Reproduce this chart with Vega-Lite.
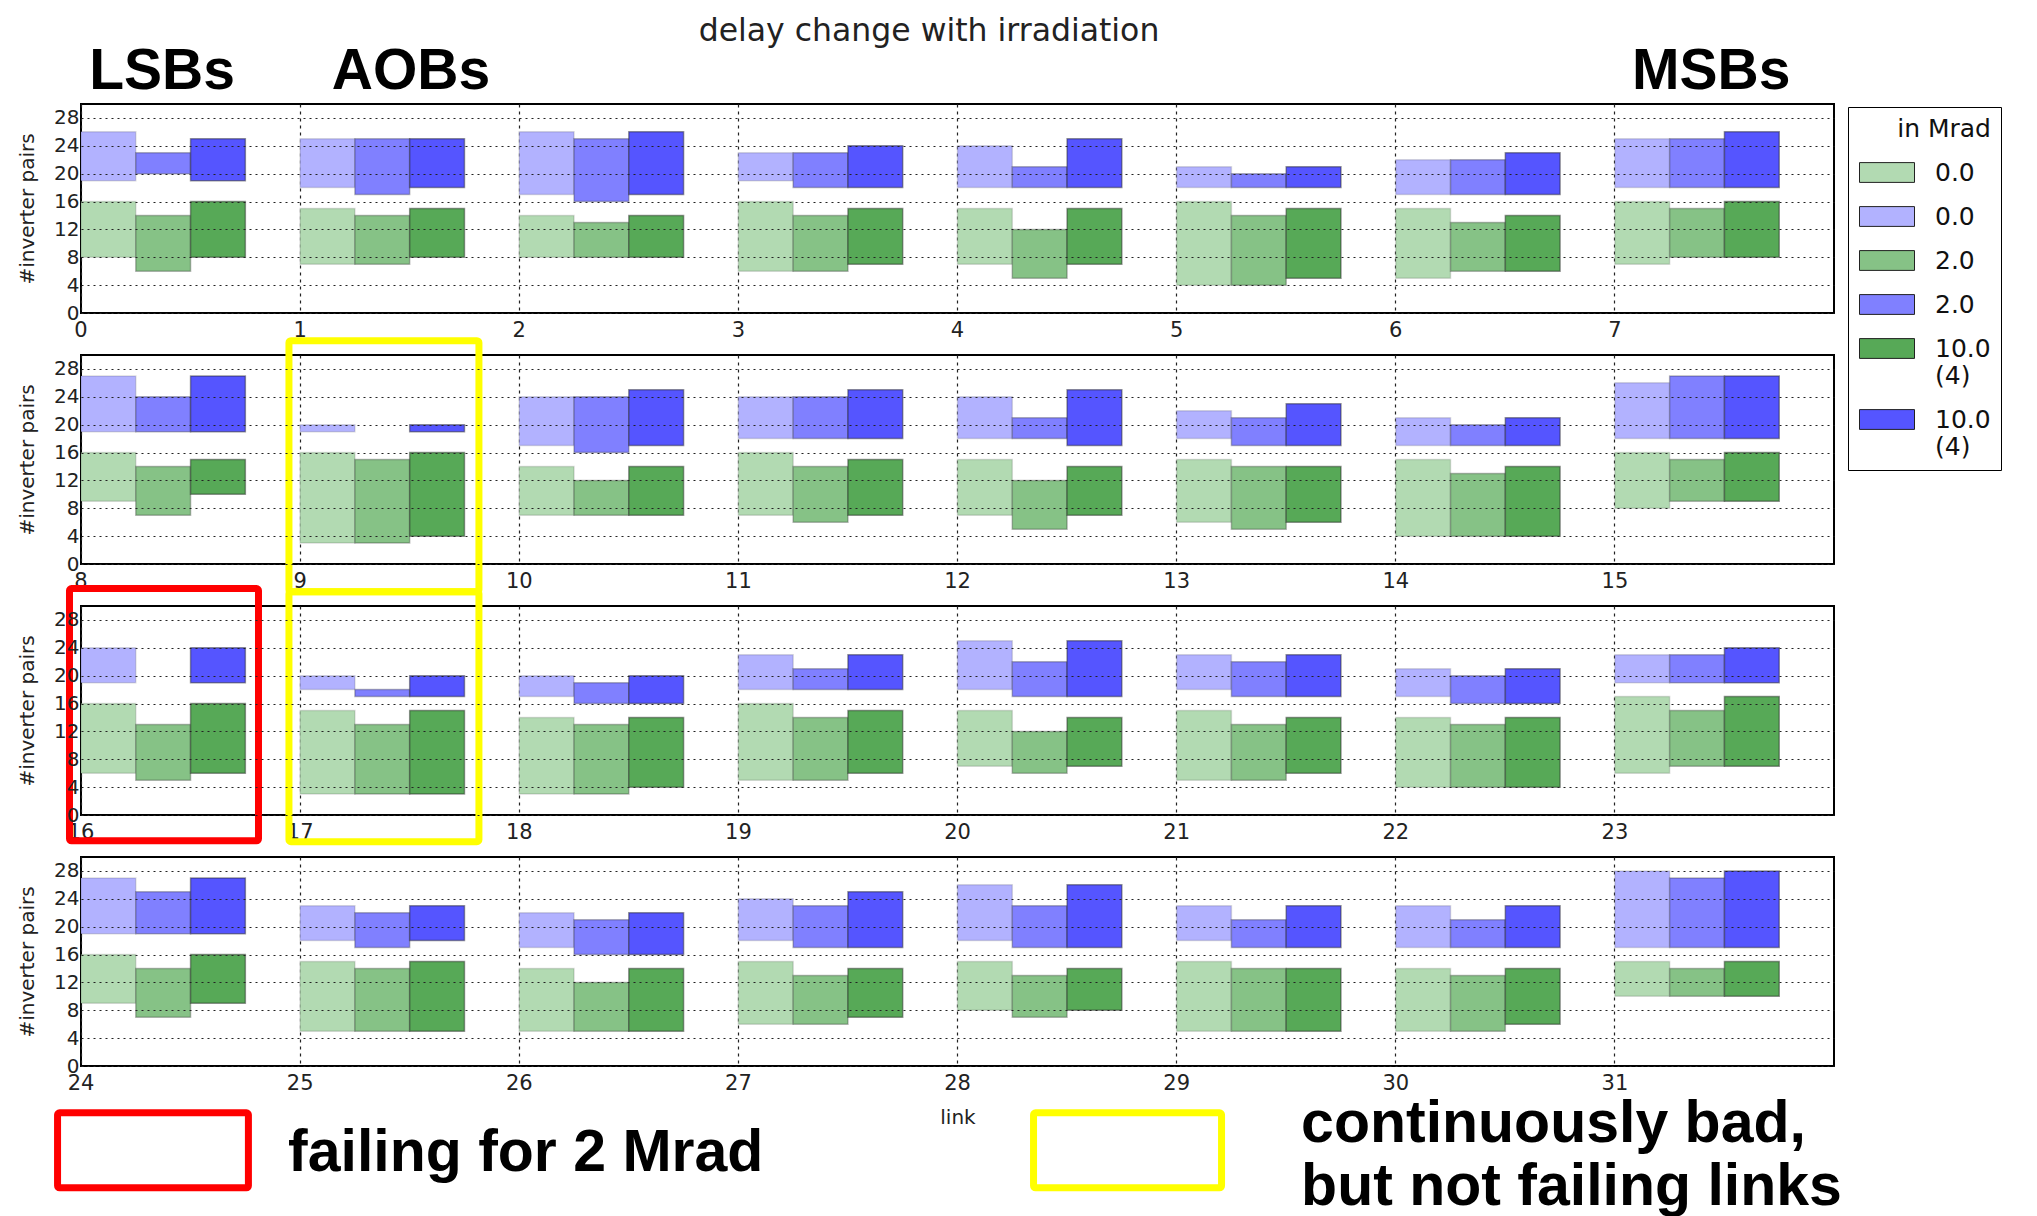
{
"$schema":"https://vega.github.io/schema/vega-lite/v6.json",
"background":"white",
"padding":{"left":16,"top":14,"right":0,"bottom":0},
"bounds":"flush",
"spacing":42,
"config":{"view":{"stroke":"#000","strokeWidth":2}},
"datasets":{
"bars":[
{"link":0,"dose":"0","series":"g0","lo":8,"hi":16},{"link":0,"dose":"2","series":"g2","lo":6,"hi":14},{"link":0,"dose":"10","series":"g10","lo":8,"hi":16},{"link":0,"dose":"0","series":"b0","lo":19,"hi":26},{"link":0,"dose":"2","series":"b2","lo":20,"hi":23},{"link":0,"dose":"10","series":"b10","lo":19,"hi":25},
{"link":1,"dose":"0","series":"g0","lo":7,"hi":15},{"link":1,"dose":"2","series":"g2","lo":7,"hi":14},{"link":1,"dose":"10","series":"g10","lo":8,"hi":15},{"link":1,"dose":"0","series":"b0","lo":18,"hi":25},{"link":1,"dose":"2","series":"b2","lo":17,"hi":25},{"link":1,"dose":"10","series":"b10","lo":18,"hi":25},
{"link":2,"dose":"0","series":"g0","lo":8,"hi":14},{"link":2,"dose":"2","series":"g2","lo":8,"hi":13},{"link":2,"dose":"10","series":"g10","lo":8,"hi":14},{"link":2,"dose":"0","series":"b0","lo":17,"hi":26},{"link":2,"dose":"2","series":"b2","lo":16,"hi":25},{"link":2,"dose":"10","series":"b10","lo":17,"hi":26},
{"link":3,"dose":"0","series":"g0","lo":6,"hi":16},{"link":3,"dose":"2","series":"g2","lo":6,"hi":14},{"link":3,"dose":"10","series":"g10","lo":7,"hi":15},{"link":3,"dose":"0","series":"b0","lo":19,"hi":23},{"link":3,"dose":"2","series":"b2","lo":18,"hi":23},{"link":3,"dose":"10","series":"b10","lo":18,"hi":24},
{"link":4,"dose":"0","series":"g0","lo":7,"hi":15},{"link":4,"dose":"2","series":"g2","lo":5,"hi":12},{"link":4,"dose":"10","series":"g10","lo":7,"hi":15},{"link":4,"dose":"0","series":"b0","lo":18,"hi":24},{"link":4,"dose":"2","series":"b2","lo":18,"hi":21},{"link":4,"dose":"10","series":"b10","lo":18,"hi":25},
{"link":5,"dose":"0","series":"g0","lo":4,"hi":16},{"link":5,"dose":"2","series":"g2","lo":4,"hi":14},{"link":5,"dose":"10","series":"g10","lo":5,"hi":15},{"link":5,"dose":"0","series":"b0","lo":18,"hi":21},{"link":5,"dose":"2","series":"b2","lo":18,"hi":20},{"link":5,"dose":"10","series":"b10","lo":18,"hi":21},
{"link":6,"dose":"0","series":"g0","lo":5,"hi":15},{"link":6,"dose":"2","series":"g2","lo":6,"hi":13},{"link":6,"dose":"10","series":"g10","lo":6,"hi":14},{"link":6,"dose":"0","series":"b0","lo":17,"hi":22},{"link":6,"dose":"2","series":"b2","lo":17,"hi":22},{"link":6,"dose":"10","series":"b10","lo":17,"hi":23},
{"link":7,"dose":"0","series":"g0","lo":7,"hi":16},{"link":7,"dose":"2","series":"g2","lo":8,"hi":15},{"link":7,"dose":"10","series":"g10","lo":8,"hi":16},{"link":7,"dose":"0","series":"b0","lo":18,"hi":25},{"link":7,"dose":"2","series":"b2","lo":18,"hi":25},{"link":7,"dose":"10","series":"b10","lo":18,"hi":26},
{"link":8,"dose":"0","series":"g0","lo":9,"hi":16},{"link":8,"dose":"2","series":"g2","lo":7,"hi":14},{"link":8,"dose":"10","series":"g10","lo":10,"hi":15},{"link":8,"dose":"0","series":"b0","lo":19,"hi":27},{"link":8,"dose":"2","series":"b2","lo":19,"hi":24},{"link":8,"dose":"10","series":"b10","lo":19,"hi":27},
{"link":9,"dose":"0","series":"g0","lo":3,"hi":16},{"link":9,"dose":"2","series":"g2","lo":3,"hi":15},{"link":9,"dose":"10","series":"g10","lo":4,"hi":16},{"link":9,"dose":"0","series":"b0","lo":19,"hi":20},{"link":9,"dose":"10","series":"b10","lo":19,"hi":20},
{"link":10,"dose":"0","series":"g0","lo":7,"hi":14},{"link":10,"dose":"2","series":"g2","lo":7,"hi":12},{"link":10,"dose":"10","series":"g10","lo":7,"hi":14},{"link":10,"dose":"0","series":"b0","lo":17,"hi":24},{"link":10,"dose":"2","series":"b2","lo":16,"hi":24},{"link":10,"dose":"10","series":"b10","lo":17,"hi":25},
{"link":11,"dose":"0","series":"g0","lo":7,"hi":16},{"link":11,"dose":"2","series":"g2","lo":6,"hi":14},{"link":11,"dose":"10","series":"g10","lo":7,"hi":15},{"link":11,"dose":"0","series":"b0","lo":18,"hi":24},{"link":11,"dose":"2","series":"b2","lo":18,"hi":24},{"link":11,"dose":"10","series":"b10","lo":18,"hi":25},
{"link":12,"dose":"0","series":"g0","lo":7,"hi":15},{"link":12,"dose":"2","series":"g2","lo":5,"hi":12},{"link":12,"dose":"10","series":"g10","lo":7,"hi":14},{"link":12,"dose":"0","series":"b0","lo":18,"hi":24},{"link":12,"dose":"2","series":"b2","lo":18,"hi":21},{"link":12,"dose":"10","series":"b10","lo":17,"hi":25},
{"link":13,"dose":"0","series":"g0","lo":6,"hi":15},{"link":13,"dose":"2","series":"g2","lo":5,"hi":14},{"link":13,"dose":"10","series":"g10","lo":6,"hi":14},{"link":13,"dose":"0","series":"b0","lo":18,"hi":22},{"link":13,"dose":"2","series":"b2","lo":17,"hi":21},{"link":13,"dose":"10","series":"b10","lo":17,"hi":23},
{"link":14,"dose":"0","series":"g0","lo":4,"hi":15},{"link":14,"dose":"2","series":"g2","lo":4,"hi":13},{"link":14,"dose":"10","series":"g10","lo":4,"hi":14},{"link":14,"dose":"0","series":"b0","lo":17,"hi":21},{"link":14,"dose":"2","series":"b2","lo":17,"hi":20},{"link":14,"dose":"10","series":"b10","lo":17,"hi":21},
{"link":15,"dose":"0","series":"g0","lo":8,"hi":16},{"link":15,"dose":"2","series":"g2","lo":9,"hi":15},{"link":15,"dose":"10","series":"g10","lo":9,"hi":16},{"link":15,"dose":"0","series":"b0","lo":18,"hi":26},{"link":15,"dose":"2","series":"b2","lo":18,"hi":27},{"link":15,"dose":"10","series":"b10","lo":18,"hi":27},
{"link":16,"dose":"0","series":"g0","lo":6,"hi":16},{"link":16,"dose":"2","series":"g2","lo":5,"hi":13},{"link":16,"dose":"10","series":"g10","lo":6,"hi":16},{"link":16,"dose":"0","series":"b0","lo":19,"hi":24},{"link":16,"dose":"10","series":"b10","lo":19,"hi":24},
{"link":17,"dose":"0","series":"g0","lo":3,"hi":15},{"link":17,"dose":"2","series":"g2","lo":3,"hi":13},{"link":17,"dose":"10","series":"g10","lo":3,"hi":15},{"link":17,"dose":"0","series":"b0","lo":18,"hi":20},{"link":17,"dose":"2","series":"b2","lo":17,"hi":18},{"link":17,"dose":"10","series":"b10","lo":17,"hi":20},
{"link":18,"dose":"0","series":"g0","lo":3,"hi":14},{"link":18,"dose":"2","series":"g2","lo":3,"hi":13},{"link":18,"dose":"10","series":"g10","lo":4,"hi":14},{"link":18,"dose":"0","series":"b0","lo":17,"hi":20},{"link":18,"dose":"2","series":"b2","lo":16,"hi":19},{"link":18,"dose":"10","series":"b10","lo":16,"hi":20},
{"link":19,"dose":"0","series":"g0","lo":5,"hi":16},{"link":19,"dose":"2","series":"g2","lo":5,"hi":14},{"link":19,"dose":"10","series":"g10","lo":6,"hi":15},{"link":19,"dose":"0","series":"b0","lo":18,"hi":23},{"link":19,"dose":"2","series":"b2","lo":18,"hi":21},{"link":19,"dose":"10","series":"b10","lo":18,"hi":23},
{"link":20,"dose":"0","series":"g0","lo":7,"hi":15},{"link":20,"dose":"2","series":"g2","lo":6,"hi":12},{"link":20,"dose":"10","series":"g10","lo":7,"hi":14},{"link":20,"dose":"0","series":"b0","lo":18,"hi":25},{"link":20,"dose":"2","series":"b2","lo":17,"hi":22},{"link":20,"dose":"10","series":"b10","lo":17,"hi":25},
{"link":21,"dose":"0","series":"g0","lo":5,"hi":15},{"link":21,"dose":"2","series":"g2","lo":5,"hi":13},{"link":21,"dose":"10","series":"g10","lo":6,"hi":14},{"link":21,"dose":"0","series":"b0","lo":18,"hi":23},{"link":21,"dose":"2","series":"b2","lo":17,"hi":22},{"link":21,"dose":"10","series":"b10","lo":17,"hi":23},
{"link":22,"dose":"0","series":"g0","lo":4,"hi":14},{"link":22,"dose":"2","series":"g2","lo":4,"hi":13},{"link":22,"dose":"10","series":"g10","lo":4,"hi":14},{"link":22,"dose":"0","series":"b0","lo":17,"hi":21},{"link":22,"dose":"2","series":"b2","lo":16,"hi":20},{"link":22,"dose":"10","series":"b10","lo":16,"hi":21},
{"link":23,"dose":"0","series":"g0","lo":6,"hi":17},{"link":23,"dose":"2","series":"g2","lo":7,"hi":15},{"link":23,"dose":"10","series":"g10","lo":7,"hi":17},{"link":23,"dose":"0","series":"b0","lo":19,"hi":23},{"link":23,"dose":"2","series":"b2","lo":19,"hi":23},{"link":23,"dose":"10","series":"b10","lo":19,"hi":24},
{"link":24,"dose":"0","series":"g0","lo":9,"hi":16},{"link":24,"dose":"2","series":"g2","lo":7,"hi":14},{"link":24,"dose":"10","series":"g10","lo":9,"hi":16},{"link":24,"dose":"0","series":"b0","lo":19,"hi":27},{"link":24,"dose":"2","series":"b2","lo":19,"hi":25},{"link":24,"dose":"10","series":"b10","lo":19,"hi":27},
{"link":25,"dose":"0","series":"g0","lo":5,"hi":15},{"link":25,"dose":"2","series":"g2","lo":5,"hi":14},{"link":25,"dose":"10","series":"g10","lo":5,"hi":15},{"link":25,"dose":"0","series":"b0","lo":18,"hi":23},{"link":25,"dose":"2","series":"b2","lo":17,"hi":22},{"link":25,"dose":"10","series":"b10","lo":18,"hi":23},
{"link":26,"dose":"0","series":"g0","lo":5,"hi":14},{"link":26,"dose":"2","series":"g2","lo":5,"hi":12},{"link":26,"dose":"10","series":"g10","lo":5,"hi":14},{"link":26,"dose":"0","series":"b0","lo":17,"hi":22},{"link":26,"dose":"2","series":"b2","lo":16,"hi":21},{"link":26,"dose":"10","series":"b10","lo":16,"hi":22},
{"link":27,"dose":"0","series":"g0","lo":6,"hi":15},{"link":27,"dose":"2","series":"g2","lo":6,"hi":13},{"link":27,"dose":"10","series":"g10","lo":7,"hi":14},{"link":27,"dose":"0","series":"b0","lo":18,"hi":24},{"link":27,"dose":"2","series":"b2","lo":17,"hi":23},{"link":27,"dose":"10","series":"b10","lo":17,"hi":25},
{"link":28,"dose":"0","series":"g0","lo":8,"hi":15},{"link":28,"dose":"2","series":"g2","lo":7,"hi":13},{"link":28,"dose":"10","series":"g10","lo":8,"hi":14},{"link":28,"dose":"0","series":"b0","lo":18,"hi":26},{"link":28,"dose":"2","series":"b2","lo":17,"hi":23},{"link":28,"dose":"10","series":"b10","lo":17,"hi":26},
{"link":29,"dose":"0","series":"g0","lo":5,"hi":15},{"link":29,"dose":"2","series":"g2","lo":5,"hi":14},{"link":29,"dose":"10","series":"g10","lo":5,"hi":14},{"link":29,"dose":"0","series":"b0","lo":18,"hi":23},{"link":29,"dose":"2","series":"b2","lo":17,"hi":21},{"link":29,"dose":"10","series":"b10","lo":17,"hi":23},
{"link":30,"dose":"0","series":"g0","lo":5,"hi":14},{"link":30,"dose":"2","series":"g2","lo":5,"hi":13},{"link":30,"dose":"10","series":"g10","lo":6,"hi":14},{"link":30,"dose":"0","series":"b0","lo":17,"hi":23},{"link":30,"dose":"2","series":"b2","lo":17,"hi":21},{"link":30,"dose":"10","series":"b10","lo":17,"hi":23},
{"link":31,"dose":"0","series":"g0","lo":10,"hi":15},{"link":31,"dose":"2","series":"g2","lo":10,"hi":14},{"link":31,"dose":"10","series":"g10","lo":10,"hi":15},{"link":31,"dose":"0","series":"b0","lo":17,"hi":28},{"link":31,"dose":"2","series":"b2","lo":17,"hi":27},{"link":31,"dose":"10","series":"b10","lo":17,"hi":28}
],
"notes":[
{"panel":1,"kind":"title","text":"delay change with irradiation","x":3.87,"y":39.1},
{"panel":1,"kind":"group","text":"LSBs","x":0.37,"y":32.2},
{"panel":1,"kind":"group","text":"AOBs","x":1.506,"y":32.2},
{"panel":1,"kind":"group","text":"MSBs","x":7.44,"y":32.2},
{"panel":4,"kind":"note","text":"failing for 2 Mrad","x":0.945,"y":-15.1},
{"panel":4,"kind":"note","text":"continuously bad,","x":5.568,"y":-10.95},
{"panel":4,"kind":"note","text":"but not failing links","x":5.568,"y":-20.0}
],
"boxes":[
{"panel":2,"box":"bad","x":0.949,"x2":1.816,"y":-3.98,"y2":32.05},
{"panel":3,"box":"failing","x":-0.0525,"x2":0.81,"y":-3.7,"y2":32.5},
{"panel":3,"box":"bad","x":0.949,"x2":1.816,"y":-3.83,"y2":32.05},
{"panel":4,"box":"failing","x":-0.107,"x2":0.764,"y":-17.48,"y2":-6.72},
{"panel":4,"box":"bad","x":4.347,"x2":5.205,"y":-17.48,"y2":-6.72}
]
},
"vconcat":[
{"width":1753,"height":209,"resolve":{"scale":{"x":"independent","y":"independent"}},
"layer":[
{"data":{"name":"bars"},"transform":[{"filter":{"field":"link","range":[0,7]}}],
"mark":{"type":"bar","stroke":"#222","strokeWidth":1.5},
"encoding":{
"x":{"field":"link","type":"ordinal","scale":{"paddingInner":0,"paddingOuter":0},"axis":{"title":null,"labelAngle":0,"labelFontSize":21,"labelFont":"DejaVu Sans","labelColor":"#222","labelPadding":6,"labelOffset":-109.56,"bandPosition":0,"grid":true,"gridDash":[3,4],"gridColor":"#222","gridWidth":1.2,"domain":false,"ticks":false,"tickSize":0}},
"xOffset":{"field":"dose","type":"nominal","scale":{"domain":["0","2","10","pad"],"paddingInner":0,"paddingOuter":0}},
"y":{"field":"lo","type":"quantitative","scale":{"domain":[0,30],"nice":false,"zero":false},"axis":{"title":"#inverter pairs","titleFont":"DejaVu Sans","titleFontSize":20,"titleFontWeight":"normal","titleColor":"#222","titlePadding":16,"values":[0,4,8,12,16,20,24,28],"labelFontSize":20,"labelFont":"DejaVu Sans","labelColor":"#222","labelPadding":2,"grid":true,"gridDash":[2,4],"gridColor":"#222","gridWidth":1.2,"domain":false,"ticks":false,"tickSize":0,"zindex":1}},
"y2":{"field":"hi"},
"color":{"field":"series","type":"nominal","scale":{"domain":["g0","b0","g2","b2","g10","b10"],"range":["#b2dab2","#b2b2ff","#86c286","#8080ff","#57a957","#5555ff"]},
"legend":{"title":"in Mrad","orient":"none","legendX":1767,"legendY":3,"strokeColor":"#000","fillColor":"#fff","padding":10,"titleFont":"DejaVu Sans","titleFontSize":25,"titleFontWeight":"normal","titleColor":"#111","titleAnchor":"end","titlePadding":18,"labelFont":"DejaVu Sans","labelFontSize":25,"labelColor":"#111","labelOffset":52,"symbolType":"M-1,-0.9L4,-0.9L4,0.9L-1,0.9Z","symbolSize":484,"symbolStrokeColor":"#777","symbolStrokeWidth":1,"symbolOpacity":1,"rowPadding":18,"labelExpr":"(datum.label=='g10'||datum.label=='b10') ? ['10.0\u00a0\u00a0\u00a0\u00a0\u00a0','(4)'] : ((datum.label=='g2'||datum.label=='b2') ? '2.0' : '0.0')"}},
"strokeOpacity":{"field":"dose","type":"nominal","scale":{"domain":["0","2","10"],"range":[0.15,0.45,0.75]},"legend":null}
}},
{"data":{"name":"notes"},"transform":[{"filter":"datum.panel==1 && datum.kind=='group'"}],
"mark":{"type":"text","font":"Liberation Sans","fontWeight":"bold","fontSize":57,"align":"center","baseline":"alphabetic","color":"#000"},
"encoding":{"x":{"field":"x","type":"quantitative","scale":{"domain":[0,8],"nice":false,"zero":false},"axis":null},"y":{"field":"y","type":"quantitative","scale":{"domain":[0,30],"nice":false,"zero":false},"axis":null},"text":{"field":"text"}}},
{"data":{"name":"notes"},"transform":[{"filter":"datum.panel==1 && datum.kind=='title'"}],
"mark":{"type":"text","font":"DejaVu Sans","fontSize":31.5,"align":"center","baseline":"alphabetic","color":"#222"},
"encoding":{"x":{"field":"x","type":"quantitative","scale":{"domain":[0,8],"nice":false,"zero":false},"axis":null},"y":{"field":"y","type":"quantitative","scale":{"domain":[0,30],"nice":false,"zero":false},"axis":null},"text":{"field":"text"}}}
]},
{"width":1753,"height":209,"resolve":{"scale":{"x":"independent","y":"independent"}},
"layer":[
{"data":{"name":"bars"},"transform":[{"filter":{"field":"link","range":[8,15]}}],
"mark":{"type":"bar","stroke":"#222","strokeWidth":1.5},
"encoding":{
"x":{"field":"link","type":"ordinal","scale":{"paddingInner":0,"paddingOuter":0},"axis":{"title":null,"labelAngle":0,"labelFontSize":21,"labelFont":"DejaVu Sans","labelColor":"#222","labelPadding":6,"labelOffset":-109.56,"bandPosition":0,"grid":true,"gridDash":[3,4],"gridColor":"#222","gridWidth":1.2,"domain":false,"ticks":false,"tickSize":0}},
"xOffset":{"field":"dose","type":"nominal","scale":{"domain":["0","2","10","pad"],"paddingInner":0,"paddingOuter":0}},
"y":{"field":"lo","type":"quantitative","scale":{"domain":[0,30],"nice":false,"zero":false},"axis":{"title":"#inverter pairs","titleFont":"DejaVu Sans","titleFontSize":20,"titleFontWeight":"normal","titleColor":"#222","titlePadding":16,"values":[0,4,8,12,16,20,24,28],"labelFontSize":20,"labelFont":"DejaVu Sans","labelColor":"#222","labelPadding":2,"grid":true,"gridDash":[2,4],"gridColor":"#222","gridWidth":1.2,"domain":false,"ticks":false,"tickSize":0,"zindex":1}},
"y2":{"field":"hi"},
"color":{"field":"series","type":"nominal"},
"strokeOpacity":{"field":"dose","type":"nominal","legend":null}
}},
{"data":{"name":"boxes"},"transform":[{"filter":"datum.panel==2"}],
"mark":{"type":"rect","fill":"transparent","strokeWidth":7,"cornerRadius":2},
"encoding":{"x":{"field":"x","type":"quantitative","scale":{"domain":[0,8],"nice":false,"zero":false},"axis":null},"x2":{"field":"x2"},"y":{"field":"y","type":"quantitative","scale":{"domain":[0,30],"nice":false,"zero":false},"axis":null},"y2":{"field":"y2"},
"stroke":{"field":"box","type":"nominal","scale":{"domain":["failing","bad"],"range":["#ff0000","#ffff00"]},"legend":null}}}
]},
{"width":1753,"height":209,"resolve":{"scale":{"x":"independent","y":"independent"}},
"layer":[
{"data":{"name":"bars"},"transform":[{"filter":{"field":"link","range":[16,23]}}],
"mark":{"type":"bar","stroke":"#222","strokeWidth":1.5},
"encoding":{
"x":{"field":"link","type":"ordinal","scale":{"paddingInner":0,"paddingOuter":0},"axis":{"title":null,"labelAngle":0,"labelFontSize":21,"labelFont":"DejaVu Sans","labelColor":"#222","labelPadding":6,"labelOffset":-109.56,"bandPosition":0,"grid":true,"gridDash":[3,4],"gridColor":"#222","gridWidth":1.2,"domain":false,"ticks":false,"tickSize":0}},
"xOffset":{"field":"dose","type":"nominal","scale":{"domain":["0","2","10","pad"],"paddingInner":0,"paddingOuter":0}},
"y":{"field":"lo","type":"quantitative","scale":{"domain":[0,30],"nice":false,"zero":false},"axis":{"title":"#inverter pairs","titleFont":"DejaVu Sans","titleFontSize":20,"titleFontWeight":"normal","titleColor":"#222","titlePadding":16,"values":[0,4,8,12,16,20,24,28],"labelFontSize":20,"labelFont":"DejaVu Sans","labelColor":"#222","labelPadding":2,"grid":true,"gridDash":[2,4],"gridColor":"#222","gridWidth":1.2,"domain":false,"ticks":false,"tickSize":0,"zindex":1}},
"y2":{"field":"hi"},
"color":{"field":"series","type":"nominal"},
"strokeOpacity":{"field":"dose","type":"nominal","legend":null}
}},
{"data":{"name":"boxes"},"transform":[{"filter":"datum.panel==3"}],
"mark":{"type":"rect","fill":"transparent","strokeWidth":7,"cornerRadius":2},
"encoding":{"x":{"field":"x","type":"quantitative","scale":{"domain":[0,8],"nice":false,"zero":false},"axis":null},"x2":{"field":"x2"},"y":{"field":"y","type":"quantitative","scale":{"domain":[0,30],"nice":false,"zero":false},"axis":null},"y2":{"field":"y2"},
"stroke":{"field":"box","type":"nominal","legend":null}}}
]},
{"width":1753,"height":209,"resolve":{"scale":{"x":"independent","y":"independent"}},
"layer":[
{"data":{"name":"bars"},"transform":[{"filter":{"field":"link","range":[24,31]}}],
"mark":{"type":"bar","stroke":"#222","strokeWidth":1.5},
"encoding":{
"x":{"field":"link","type":"ordinal","scale":{"paddingInner":0,"paddingOuter":0},"axis":{"title":"link","titleFont":"DejaVu Sans","titleFontSize":20,"titleFontWeight":"normal","titleColor":"#222","titlePadding":14,"labelAngle":0,"labelFontSize":21,"labelFont":"DejaVu Sans","labelColor":"#222","labelPadding":6,"labelOffset":-109.56,"bandPosition":0,"grid":true,"gridDash":[3,4],"gridColor":"#222","gridWidth":1.2,"domain":false,"ticks":false,"tickSize":0}},
"xOffset":{"field":"dose","type":"nominal","scale":{"domain":["0","2","10","pad"],"paddingInner":0,"paddingOuter":0}},
"y":{"field":"lo","type":"quantitative","scale":{"domain":[0,30],"nice":false,"zero":false},"axis":{"title":"#inverter pairs","titleFont":"DejaVu Sans","titleFontSize":20,"titleFontWeight":"normal","titleColor":"#222","titlePadding":16,"values":[0,4,8,12,16,20,24,28],"labelFontSize":20,"labelFont":"DejaVu Sans","labelColor":"#222","labelPadding":2,"grid":true,"gridDash":[2,4],"gridColor":"#222","gridWidth":1.2,"domain":false,"ticks":false,"tickSize":0,"zindex":1}},
"y2":{"field":"hi"},
"color":{"field":"series","type":"nominal"},
"strokeOpacity":{"field":"dose","type":"nominal","legend":null}
}},
{"data":{"name":"boxes"},"transform":[{"filter":"datum.panel==4"}],
"mark":{"type":"rect","fill":"transparent","strokeWidth":7,"cornerRadius":2},
"encoding":{"x":{"field":"x","type":"quantitative","scale":{"domain":[0,8],"nice":false,"zero":false},"axis":null},"x2":{"field":"x2"},"y":{"field":"y","type":"quantitative","scale":{"domain":[0,30],"nice":false,"zero":false},"axis":null},"y2":{"field":"y2"},
"stroke":{"field":"box","type":"nominal","legend":null}}},
{"data":{"name":"notes"},"transform":[{"filter":"datum.panel==4 && datum.kind=='note'"}],
"mark":{"type":"text","font":"Liberation Sans","fontWeight":"bold","fontSize":59,"align":"left","baseline":"alphabetic","color":"#000"},
"encoding":{"x":{"field":"x","type":"quantitative","scale":{"domain":[0,8],"nice":false,"zero":false},"axis":null},"y":{"field":"y","type":"quantitative","scale":{"domain":[0,30],"nice":false,"zero":false},"axis":null},"text":{"field":"text"}}}
]}
]
}
